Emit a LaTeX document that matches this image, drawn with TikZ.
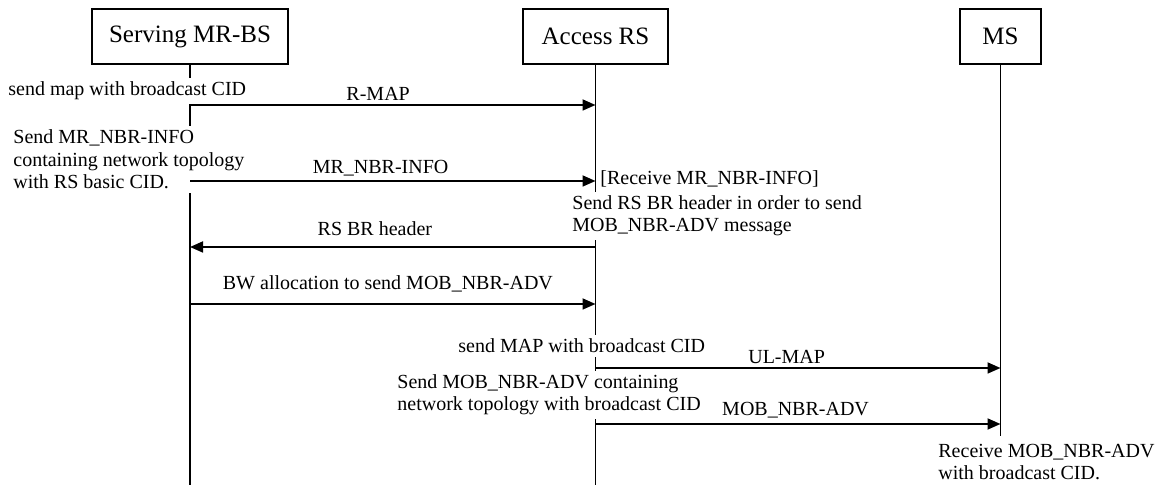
\documentclass[tikz,border=0pt]{standalone}
\usepackage{fontspec}
\setmainfont{Liberation Serif}
\usetikzlibrary{arrows.meta,positioning}

\tikzset{
  entity/.style={draw, line width=0.9pt, minimum height=27.5pt, inner sep=0pt,
    font=\fontsize{12.5}{14}\selectfont},
  life/.style={line width=0.9pt},
  msg/.style={line width=0.9pt, -{Triangle[length=6.5pt,width=5.5pt]}},
  lbl/.style={inner sep=0pt, text depth=0pt, font=\fontsize{10}{11.25}\selectfont},
  note/.style={fill=white, inner sep=2pt, align=left, anchor=base west,
    font=\fontsize{10}{11.25}\selectfont},
}

\begin{document}
\begin{tikzpicture}[x=0.5pt,y=-0.5pt]
\useasboundingbox (0,0) rectangle (1158,485);

\node[entity, minimum width=98pt] (bs) at (190,36.5) {Serving MR-BS};
\node[entity, minimum width=72.5pt] (rs) at (595.5,36.5) {Access RS};
\node[entity, minimum width=40.5pt] (ms) at (1000.5,36.5) {MS};

% lifelines
\draw[life] (bs.south) -- (bs |- 0,485);
\draw[life] (rs.south) -- (rs |- 0,485);
\draw[life] (ms.south) -- (ms |- 0,485);

% actions (anchored at the baseline of the last line)
\node[note] (n1) at (4,96) {send map with broadcast CID};
\node[note] (n2) at (9,189) {Send MR\_NBR-INFO\\containing network topology\\with RS basic CID.};
\node[note] (n3) at (596,185) {[Receive MR\_NBR-INFO]};
\node[note] (n4) at (568,232) {Send RS BR header in order to send\\MOB\_NBR-ADV message};
\node[note] (n5) at (454,353) {send MAP with broadcast CID};
\node[note] (n6) at (393,411) {Send MOB\_NBR-ADV containing\\network topology with broadcast CID};
\node[note, inner ysep=4pt] (n7) at (934,480) {Receive MOB\_NBR-ADV\\with broadcast CID.};

% messages
\draw[msg] (bs |- 0,105) -- node[lbl, pos=.464, above=1.7pt] {R-MAP} (rs |- 0,105);
\draw[msg] (bs |- 0,181) -- node[lbl, pos=.47, above=3.2pt] {MR\_NBR-INFO} (rs |- 0,181);
\draw[msg] (rs |- 0,247) -- node[lbl, pos=.544, above=5.2pt] {RS BR header} (bs |- 0,247);
\draw[msg] (bs |- 0,304) -- node[lbl, pos=.488, above=6.7pt] {BW allocation to send MOB\_NBR-ADV} (rs |- 0,304);
\draw[msg] (rs |- 0,368) -- node[lbl, pos=.472, above=1.7pt] {UL-MAP} (ms |- 0,368);
\draw[msg] (rs |- 0,424) -- node[lbl, pos=.494, above=3.7pt] {MOB\_NBR-ADV} (ms |- 0,424);
\end{tikzpicture}
\end{document}
